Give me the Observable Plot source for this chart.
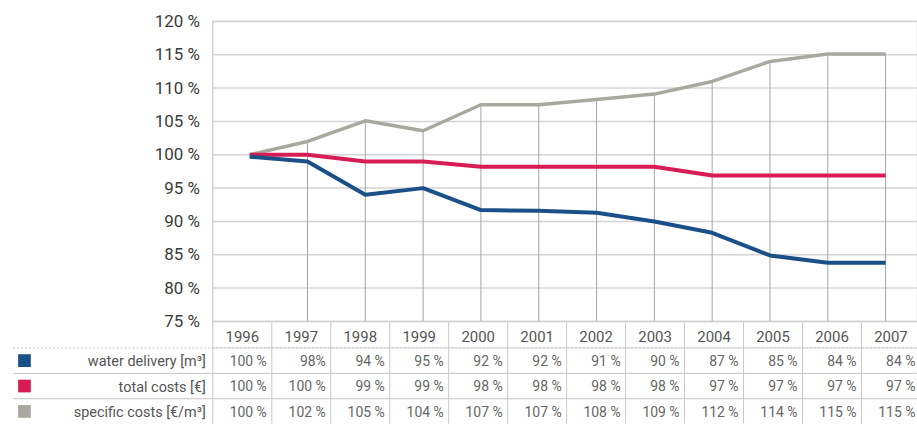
<!DOCTYPE html>
<html>
<head>
<meta charset="utf-8">
<script src="https://cdn.jsdelivr.net/npm/d3@7"></script>
<script src="https://cdn.jsdelivr.net/npm/@observablehq/plot@0.6"></script>
<style>
  html, body { margin: 0; padding: 0; background: #fff; }
  #wrap { position: relative; width: 917px; height: 424px; overflow: hidden; background: #fff; }
  #wrap svg { position: absolute; left: 0; }
</style>
</head>
<body>
<div id="wrap"></div>
<script>
// ---- data ----
const years = ["1996","1997","1998","1999","2000","2001","2002","2003","2004","2005","2006","2007"];
const seriesNames = ["water delivery [m³]", "total costs [€]", "specific costs [€/m³]"];
const waterDelivery = [99.7, 99.0, 94.0, 95.0, 91.7, 91.6, 91.3, 90.0, 88.3, 84.9, 83.8, 83.8];
const totalCosts    = [100.0, 100.0, 99.0, 99.0, 98.2, 98.2, 98.2, 98.2, 96.9, 96.9, 96.9, 96.9];
const specificCosts = [100.0, 102.0, 105.1, 103.6, 107.5, 107.5, 108.3, 109.1, 111.0, 114.0, 115.1, 115.1];
const waterDeliveryLabels = ["100 %","98%","94 %","95 %","92 %","92 %","91 %","90 %","87 %","85 %","84 %","84 %"];
const totalCostsLabels    = ["100 %","100 %","99 %","99 %","98 %","98 %","98 %","98 %","97 %","97 %","97 %","97 %"];
const specificCostsLabels = ["100 %","102 %","105 %","104 %","107 %","107 %","108 %","109 %","112 %","114 %","115 %","115 %"];
const yTicks = [75, 80, 85, 90, 95, 100, 105, 110, 115, 120];

// ---- styles ----
const colors = ["#1b4f88", "#d81c55", "#a9a89f"];
const seriesValues = [waterDelivery, totalCosts, specificCosts];
const seriesLabels = [waterDeliveryLabels, totalCostsLabels, specificCostsLabels];

const lineData = seriesNames.flatMap((name, s) =>
  years.map((year, i) => ({series: s, year, value: seriesValues[s][i]})));
const dropData = years.map((year, i) => ({year, value: specificCosts[i]})).filter((d, i) => i > 0);

const wrap = document.getElementById("wrap");

const chart = Plot.plot({
  width: 920, height: 340,
  marginTop: 21, marginBottom: 18, marginLeft: 213, marginRight: 0,
  style: {fontFamily: "Roboto, sans-serif", background: "transparent", color: "#3a3a3a"},
  x: {type: "point", domain: years, range: [246, 891], padding: 0, axis: null},
  y: {domain: [75, 120], axis: null},
  marks: [
    Plot.ruleY(yTicks, {stroke: "#d4d4d4", strokeWidth: 1.5}),
    Plot.frame({stroke: "#d4d4d4", strokeWidth: 1.5}),
    Plot.ruleX(dropData, {x: "year", y1: 75, y2: "value", stroke: "#a4a4a4", strokeWidth: 1}),
    Plot.axisY({ticks: yTicks, tickSize: 0, tickPadding: 13, tickFormat: d => `${d} %`,
      fontSize: 17, fill: "#3a3a3a", label: null}),
    ...[2, 1, 0].map(s => Plot.line(lineData.filter(d => d.series === s), {
      x: "year", y: "value", stroke: colors[s], strokeWidth: s === 2 ? 3.5 : 4,
      strokeLinejoin: "round", strokeLinecap: "butt"
    }))
  ]
});
chart.style.top = "0px";
wrap.appendChild(chart);

// ---- table ----
const headerCells = years.map((year, i) => ({col: i, year}));
const valueCells = seriesNames.flatMap((name, s) =>
  years.map((year, i) => ({col: i, row: s + 1, text: seriesLabels[s][i]})));
const rowHeads = seriesNames.map((name, s) => ({row: s + 1, name, s}));
const colBorders = d3.range(years.length + 1);

const table = Plot.plot({
  width: 920, height: 102,
  marginTop: 0, marginBottom: 0, marginLeft: 13, marginRight: 0,
  style: {fontFamily: "Roboto, sans-serif", background: "transparent", color: "#555"},
  x: {type: "linear", domain: [0, years.length], range: [213, 923], axis: null},
  y: {type: "linear", domain: [0, 4], range: [0, 102], axis: null},
  marks: [
    Plot.ruleY([1], {stroke: "#c4c4c4", strokeWidth: 1, strokeDasharray: "2,2"}),
    Plot.ruleY([1], {x1: 0, x2: years.length, stroke: "#cfcfcf", strokeWidth: 1}),
    Plot.ruleY([2, 3], {stroke: "#c4c4c4", strokeWidth: 1}),
    Plot.ruleX(colBorders, {y1: 0, y2: 4, stroke: "#c8c8c8", strokeWidth: 1}),
    Plot.text(headerCells, {x: d => d.col + 0.5, y: 0.5, text: "year", fontSize: 15, fill: "#555", dy: 2}),
    Plot.text(valueCells, {x: d => d.col + 1, y: d => d.row + 0.5, text: "text", textAnchor: "end",
      dx: -5, dy: 1, fontSize: 14, fill: "#666"}),
    Plot.text(rowHeads, {x: 0, y: d => d.row + 0.5, text: "name", textAnchor: "end", dx: -7, dy: 1,
      fontSize: 14.5, fill: "#555"}),
    Plot.dot(rowHeads, {frameAnchor: "left", y: d => d.row + 0.5, dx: 11, symbol: "square", r: 7.2,
      fill: d => colors[d.s], stroke: "none"})
  ]
});
table.style.top = "322px";
wrap.appendChild(table);
</script>
</body>
</html>
